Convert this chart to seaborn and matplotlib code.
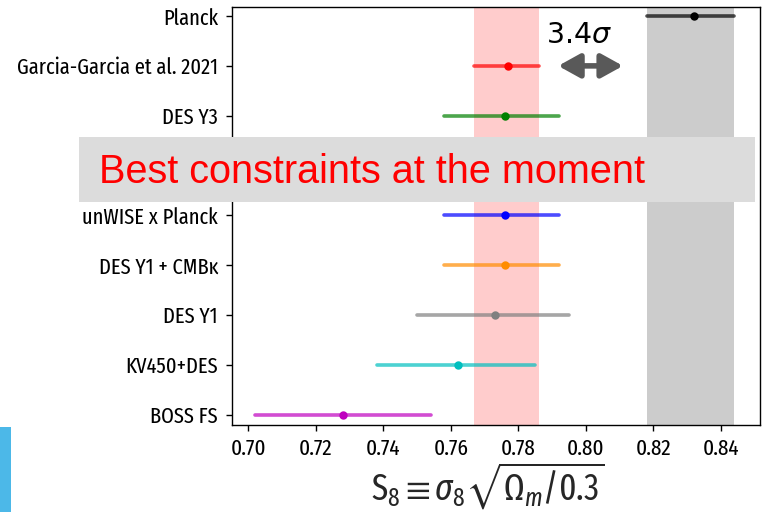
import matplotlib
matplotlib.use("Agg")
import matplotlib.pyplot as plt
from matplotlib.patches import Rectangle
import numpy as np
import pandas as pd
import seaborn as sns

# S8 constraints: central value with lower / upper 1-sigma errors
surveys = ["Planck", "Garcia-Garcia et al. 2021", "DES Y3", "slot",
           "unWISE x Planck", "DES Y1 + CMBκ", "DES Y1", "KV450+DES", "BOSS FS"]
tick_labels = ["Planck", "Garcia-Garcia et al. 2021", "DES Y3", "",
               "unWISE x Planck", "DES Y1 + CMBκ", "DES Y1", "KV450+DES", "BOSS FS"]
measured = ["Planck", "Garcia-Garcia et al. 2021", "DES Y3",
            "unWISE x Planck", "DES Y1 + CMBκ", "DES Y1", "KV450+DES", "BOSS FS"]
s8_center = [0.832, 0.777, 0.776, 0.776, 0.776, 0.773, 0.762, 0.728]
s8_err_lo = [0.014, 0.010, 0.018, 0.018, 0.018, 0.023, 0.024, 0.026]
s8_err_hi = [0.012, 0.009, 0.016, 0.016, 0.016, 0.022, 0.023, 0.026]
colors = ["black", "red", "green", "blue", "darkorange", "gray", "#00bfbf", "#bf00bf"]

x_ticks = [0.70, 0.72, 0.74, 0.76, 0.78, 0.80, 0.82, 0.84]

# long-form table: each survey contributes its lower edge, centre and upper edge
rows = []
for name, c, lo, hi in zip(measured, s8_center, s8_err_lo, s8_err_hi):
    rows += [(name, c - lo), (name, c), (name, c + hi)]
df = pd.DataFrame(rows, columns=["survey", "S8"])

NARROW = "Fira Sans Extra Condensed"

sns.set_theme(style="ticks")
plt.rcParams["font.family"] = [NARROW, "Archivo Narrow", "DejaVu Sans"]
plt.rcParams["mathtext.fontset"] = "custom"
plt.rcParams["mathtext.rm"] = NARROW
plt.rcParams["mathtext.it"] = NARROW + ":italic"
plt.rcParams["mathtext.fallback"] = "stixsans"
plt.rcParams["axes.edgecolor"] = "black"
plt.rcParams["axes.linewidth"] = 1.0
plt.rcParams["xtick.color"] = "black"
plt.rcParams["ytick.color"] = "black"
plt.rcParams["text.color"] = "black"

fig = plt.figure(figsize=(7.67, 5.12), dpi=100)
ax = fig.add_axes([0.3031, 0.1699, 0.6878, 0.8158])

# reference bands from Planck and Garcia-Garcia et al.
ax.axvspan(s8_center[0] - s8_err_lo[0], s8_center[0] + s8_err_hi[0],
           color="black", alpha=0.2, lw=0, zorder=0)
ax.axvspan(s8_center[1] - s8_err_lo[1], s8_center[1] + s8_err_hi[1],
           color="red", alpha=0.2, lw=0, zorder=0)

palette = dict(zip(measured, colors))
sns.pointplot(data=df, x="S8", y="survey", hue="survey", order=surveys,
              hue_order=measured, palette=palette, estimator="median",
              errorbar=("pi", 100), linestyle="none", markersize=4,
              err_kws={"linewidth": 2.6, "alpha": 0.7}, legend=False, ax=ax)

ax.set_yticks(range(len(surveys)))
ax.set_yticklabels(tick_labels)
ax.set_xticks(x_ticks)
ax.set_xticklabels([f"{t:.2f}" for t in x_ticks])
ax.set_xlim(0.6953, 0.8516)
ax.set_ylim(8.207, -0.175)
ax.tick_params(axis="y", labelsize=16, pad=6, length=4.5, width=1)
ax.tick_params(axis="x", labelsize=16.5, pad=5, length=4.5, width=1)
ax.set_ylabel("")
ax.set_xlabel(r"$\mathrm{S}_8 \equiv \sigma_8\sqrt{\mathrm{\Omega}_m/0.3}$", fontsize=26)
ax.xaxis.set_label_coords(0.484, -0.083)
for s in ax.spines.values():
    s.set_visible(True)
    s.set_color("black")

# tension arrow between the two bands
ax.annotate("", xy=(0.8110, 1), xytext=(0.7918, 1),
            arrowprops=dict(arrowstyle="<|-|>,head_length=0.65,head_width=0.36",
                            color="#595959", lw=4, mutation_scale=20,
                            shrinkA=0, shrinkB=0))
fig.text(546 / 767, 1 - 43 / 512, r"$3.4\sigma$", fontsize=20.5,
         math_fontfamily="dejavusans", va="baseline", ha="left")

# highlight banner
fig.patches.append(Rectangle((79 / 767, 1 - 202.3 / 512), 676 / 767, 65.6 / 512,
                             transform=fig.transFigure, facecolor="#dcdcdc",
                             edgecolor="none", zorder=5))
fig.text(99 / 767, 1 - 182.7 / 512, "Best constraints at the moment",
         fontsize=28.5, family="Liberation Sans", color="#ff0000",
         va="baseline", ha="left", zorder=6)

# side accent bar
fig.patches.append(Rectangle((0, 0), 11 / 767, 85.3 / 512,
                             transform=fig.transFigure, facecolor="#4cb8e8",
                             edgecolor="none", zorder=5))

fig.savefig("out.png", dpi=100)
